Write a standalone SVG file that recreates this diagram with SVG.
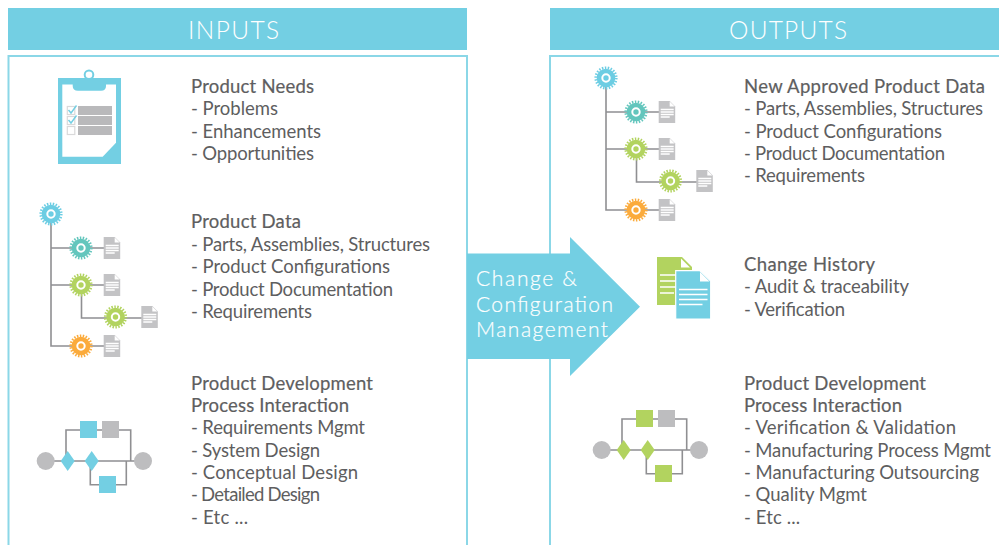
<svg xmlns="http://www.w3.org/2000/svg" width="999" height="545" viewBox="0 0 999 545">
<style>
text{font-family:"Lato","Liberation Sans",sans-serif;fill:#5e5e60;font-size:18.5px}
.t{stroke:#5e5e60;stroke-width:.2px}
.h{fill:#fff;font-size:24.5px;font-weight:300}
.a{fill:#fff;font-size:21px;font-weight:300;stroke:#fff;stroke-width:.2px}
.band{fill:#73cfe3}
.panel{fill:#fff;stroke:#8bd7e7;stroke-width:2}
.ln{fill:none;stroke:#8f8f92;stroke-width:1.6}
.teeth{fill:none;stroke-width:2.600;stroke-dasharray:1.47 1.47}
.g1{fill:#6ccde3;stroke:#6ccde3}.g2{fill:#63c6bd;stroke:#63c6bd}.g3{fill:#b2d35f;stroke:#b2d35f}.g4{fill:#fbab3c;stroke:#fbab3c}
.hub{fill:none;stroke:#fff;stroke-width:2}
.gray{fill:#bdbdbf}
.blue{fill:#73cfe3}
.green{fill:#b2d35f}
.wl{stroke:#fff;stroke-width:1.3;fill:none}
</style>
<defs>
<g id="gear"><circle r="9.300" stroke="none"/><circle r="10.300" class="teeth"/><circle r="3.700" class="hub"/></g>
<g id="doc"><path d="M0 0H11L16.500 5.500V22H0Z" fill="#c3c3c5"/><path d="M11 0.500V5.500H16" fill="#fff"/><path d="M2 8.500H15M2 11H15M2 13.500H15M2 16H11" class="wl"/></g>
<g id="tree">
<path class="ln" d="M51 214V346H81M51 248H104M51 285H104M81.500 285V318H142M81 346H104"/>
<use href="#gear" x="51" y="214" class="g1"/>
<use href="#gear" x="81" y="248" class="g2"/>
<use href="#gear" x="81" y="285" class="g3"/>
<use href="#gear" x="115.500" y="317" class="g3"/>
<use href="#gear" x="81" y="346" class="g4"/>
<use href="#doc" x="103.700" y="237"/>
<use href="#doc" x="103.700" y="274"/>
<use href="#doc" x="141.300" y="306"/>
<use href="#doc" x="103.700" y="335"/>
</g>
<path id="flow" class="ln" d="M46 461H143M66 461V430H130.700V461M90.300 461V484.700H126.300V461"/>
<path id="dia" d="M0 -10L7 0L0 10L-7 0Z"/>
</defs>

<g id="inputs-panel"><rect class="panel" x="8.500" y="56" width="458.500" height="495"/><rect class="band" x="8" y="8" width="459" height="42"/><text class="h" x="188" y="38.500" textLength="91">INPUTS</text></g>
<g id="outputs-panel"><rect class="panel" x="550" y="56" width="460" height="495"/><rect class="band" x="550" y="8" width="449" height="42"/><text class="h" x="729" y="38.500" textLength="118">OUTPUTS</text></g>

<g id="clipboard">
<circle cx="89" cy="74.700" r="4.300" fill="none" stroke="#73cfe3" stroke-width="2"/>
<rect class="blue" x="58" y="78" width="63" height="86"/>
<path d="M62.300 84.500H116V142.700L102.700 156.700H62.300Z" fill="#fff"/>
<path class="blue" d="M72.700 84H106V86Q106 90.700 101 90.700H78Q72.700 90.700 72.700 86Z"/>
<g fill="#b9b9bb"><rect x="78" y="106" width="34" height="9"/><rect x="78" y="116" width="34" height="9"/><rect x="78" y="126" width="34" height="9"/></g>
<g fill="#fff" stroke="#d9d9da" stroke-width="1.200"><rect x="67.300" y="106.500" width="7.500" height="8"/><rect x="67.300" y="116.500" width="7.500" height="8"/><rect x="67.300" y="126.500" width="7.500" height="8"/></g>
<path d="M68.500 110L71 113L76.500 105.500M68.500 120L71 123L76.500 115.500" fill="none" stroke="#73cfe3" stroke-width="1.400"/>
</g>

<g id="tree-in"><use href="#tree"/></g>
<g id="tree-out"><use href="#tree" transform="translate(555,-136)"/></g>

<g id="process-in">
<use href="#flow"/>
<circle class="gray" cx="45.700" cy="461" r="9"/><circle class="gray" cx="143" cy="461" r="9"/>
<use href="#dia" class="blue" x="67.700" y="461"/><use href="#dia" class="blue" x="91.700" y="461"/>
<rect class="blue" x="80" y="421" width="17" height="17"/><rect class="gray" x="102" y="421" width="17" height="17"/><rect class="blue" x="99" y="476" width="17" height="17"/>
</g>
<g id="process-out" transform="translate(556,-11)">
<use href="#flow"/>
<circle class="gray" cx="45.700" cy="461" r="9"/><circle class="gray" cx="143" cy="461" r="9"/>
<use href="#dia" class="green" x="67.700" y="461"/><use href="#dia" class="green" x="91.700" y="461"/>
<rect class="green" x="80" y="421" width="17" height="17"/><rect class="gray" x="102" y="421" width="17" height="17"/><rect class="green" x="99" y="476" width="17" height="17"/>
</g>

<g id="arrow"><path class="band" d="M467 253.500H570V237L640 306.700L570 376V359H467Z"/>
<text class="a" x="476" y="285.500" textLength="101">Change &amp;</text>
<text class="a" x="476" y="311.500" textLength="137">Configuration</text>
<text class="a" x="476" y="336.500" textLength="132">Management</text></g>

<g id="docs">
<path class="green" d="M657 257H682L692 267V305H657Z"/><path d="M681 258.500V267.500H690" fill="#fff"/>
<path d="M660 275H680M660 281H680M660 287H680M660 293H674" stroke="#fff" stroke-width="1.600"/>
<path class="blue" d="M675.700 270.700H700L710.700 281V319H675.700Z" stroke="#fff" stroke-width="1.200"/><path d="M700 272V281.500H709.500" fill="#fff"/>
<path d="M679 289.500H707.500M679 294.500H707.500M679 299.500H707.500M679 304.500H702.500" stroke="#fff" stroke-width="1.700"/>
</g>

<g id="text-needs">
<text class="t" x="191" y="92.500" textLength="123">Product Needs</text>
<text x="191" y="114.500" textLength="87">- Problems</text>
<text x="191" y="137.500" textLength="130">- Enhancements</text>
<text x="191" y="159.500" textLength="123">- Opportunities</text>
</g>
<g id="text-data">
<text class="t" x="191" y="227.500" textLength="110">Product Data</text>
<text x="191" y="250.500" textLength="239">- Parts, Assemblies, Structures</text>
<text x="191" y="272.500" textLength="199">- Product Configurations</text>
<text x="191" y="295.500" textLength="202">- Product Documentation</text>
<text x="191" y="317.500" textLength="121">- Requirements</text>
</g>
<g id="text-process-in">
<text class="t" x="191" y="389.500" textLength="182">Product Development</text>
<text class="t" x="191" y="411.500" textLength="158">Process Interaction</text>
<text x="191" y="433.500" textLength="174">- Requirements Mgmt</text>
<text x="191" y="456.500" textLength="129">- System Design</text>
<text x="191" y="478.500" textLength="167">- Conceptual Design</text>
<text x="191" y="500.500" textLength="129">- Detailed Design</text>
<text x="191" y="523.500" textLength="57">- Etc ...</text>
</g>
<g id="text-approved">
<text class="t" x="744" y="92.500" textLength="241">New Approved Product Data</text>
<text x="744" y="114.500" textLength="239">- Parts, Assemblies, Structures</text>
<text x="744" y="137.500" textLength="198">- Product Configurations</text>
<text x="744" y="159.500" textLength="201">- Product Documentation</text>
<text x="744" y="181.500" textLength="121">- Requirements</text>
</g>
<g id="text-history">
<text class="t" x="744" y="270.500" textLength="131">Change History</text>
<text x="744" y="292.500" textLength="165">- Audit &amp; traceability</text>
<text x="744" y="315.500" textLength="101">- Verification</text>
</g>
<g id="text-process-out">
<text class="t" x="744" y="389.500" textLength="182">Product Development</text>
<text class="t" x="744" y="411.500" textLength="158">Process Interaction</text>
<text x="744" y="433.500" textLength="212">- Verification &amp; Validation</text>
<text x="744" y="456.500" textLength="247">- Manufacturing Process Mgmt</text>
<text x="744" y="478.500" textLength="235">- Manufacturing Outsourcing</text>
<text x="744" y="500.500" textLength="123">- Quality Mgmt</text>
<text x="744" y="523.500" textLength="56">- Etc ...</text>
</g>
</svg>
